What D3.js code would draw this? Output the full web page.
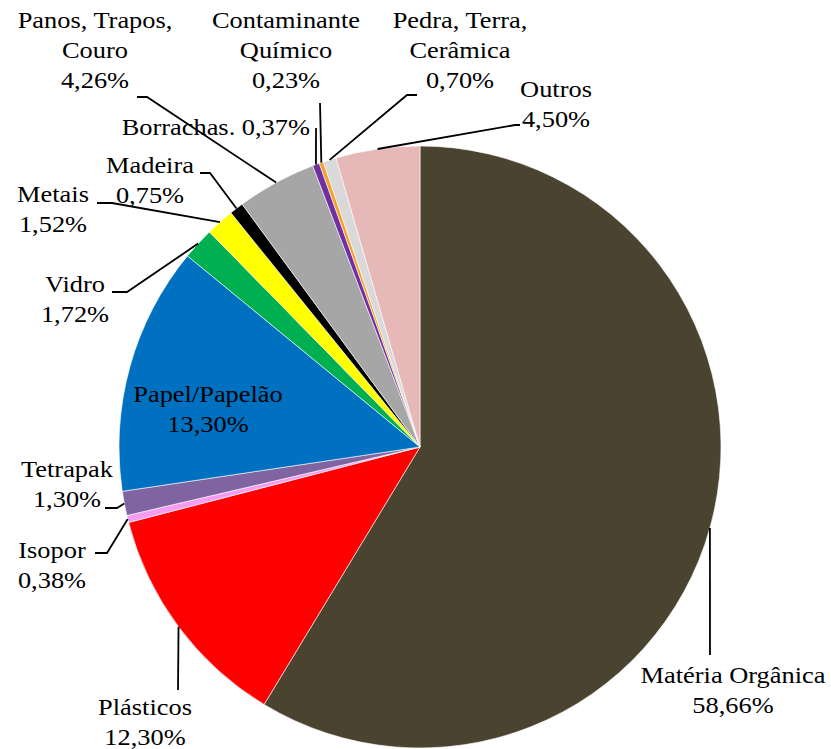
<!DOCTYPE html>
<html>
<head>
<meta charset="utf-8">
<script src="https://cdn.jsdelivr.net/npm/d3@7"></script>
<style>
  body { margin: 0; background: #fff; }
  svg { display: block; }
</style>
</head>
<body>
<svg width="831" height="749"></svg>
<script>
// data, clockwise from 12 o'clock
var categories = ["Matéria Orgânica", "Plásticos", "Isopor", "Tetrapak", "Papel/Papelão", "Vidro", "Metais",
    "Madeira", "Panos, Trapos,\nCouro", "Borrachas.", "Contaminante\nQuímico", "Pedra, Terra,\nCerâmica", "Outros"];
var values = [58.66, 12.30, 0.38, 1.30, 13.30, 1.72, 1.52, 0.75, 4.26, 0.37, 0.23, 0.70, 4.50];
var colors = ["#4a4330", "#ff0000", "#f59cf2", "#8064a2", "#0070c0", "#00b050", "#ffff00",
    "#000000", "#a6a6a6", "#7030a0", "#f7a030", "#d9d9d9", "#e6b9b8"];

// label placement (page coords): text anchor + leader line points after the slice edge
var labelLayout = [
    { x: 733, y: 683, path: [[710, 655]] },
    { x: 145, y: 715, path: [[178, 690]] },
    { x: 52, y: 558, path: [[107, 553], [95, 553]] },
    { x: 67, y: 477, path: [[117, 508], [105, 508]] },
    { x: 208, y: 402, path: null },
    { x: 75, y: 292, path: [[127, 292], [112, 292]] },
    { x: 53, y: 202, path: [[112, 203], [97, 203]] },
    { x: 150, y: 173, path: [[210, 173], [200, 173]] },
    { x: 95, y: 28, path: [[147, 97], [137, 97]] },
    { x: 310, y: 135, anchor: "end", oneLine: true, path: [[316, 128]] },
    { x: 286, y: 28, path: [[320, 103]] },
    { x: 460, y: 28, path: [[407, 95], [417, 95]] },
    { x: 556, y: 97, path: [[515, 125], [520, 125]] }
];

var svg = d3.select("svg");
var cx = 420, cy = 447, radius = 301;
var lineGap = 30;

var fmt = function (v) { return d3.format(".2f")(v).replace(".", ",") + "%"; };

var data = values.map(function (v, i) { return { name: categories[i], value: v, color: colors[i] }; });

var pie = d3.pie()
    .sort(null)
    .value(function (d) { return d.value; });

var arc = d3.arc()
    .innerRadius(0)
    .outerRadius(radius);

var arcs = pie(data);

var g = svg.append("g")
    .attr("transform", "translate(" + cx + "," + cy + ")");

g.selectAll("path.slice")
    .data(arcs)
    .enter()
    .append("path")
    .attr("class", "slice")
    .attr("d", arc)
    .attr("fill", function (d) { return d.data.color; })
    .attr("stroke", "#fff")
    .attr("stroke-width", 0.6);

// leader lines
var line = d3.line();
arcs.forEach(function (d, i) {
    var lay = labelLayout[i];
    if (!lay.path) return;
    var a = (d.startAngle + d.endAngle) / 2;
    var start = [cx + radius * Math.sin(a), cy - radius * Math.cos(a)];
    svg.append("path")
        .attr("d", line([start].concat(lay.path)))
        .attr("fill", "none")
        .attr("stroke", "#000")
        .attr("stroke-width", 1.8);
});

// labels
arcs.forEach(function (d, i) {
    var lay = labelLayout[i];
    var rows = d.data.name.split("\n");
    if (lay.oneLine) {
        rows = [rows.join(" ") + " " + fmt(d.data.value)];
    } else {
        rows.push(fmt(d.data.value));
    }
    var t = svg.append("text")
        .attr("transform", "translate(" + lay.x + "," + lay.y + ") scale(1.1,1)")
        .attr("text-anchor", lay.anchor || "middle")
        .style("font-family", "'Liberation Serif', 'Times New Roman', Times, 'DejaVu Serif', serif")
        .style("font-size", "24px")
        .attr("fill", "#000");
    t.selectAll("tspan")
        .data(rows)
        .enter()
        .append("tspan")
        .attr("x", 0)
        .attr("y", function (r, k) { return k * lineGap; })
        .text(function (r) { return r; });
});
</script>
</body>
</html>
